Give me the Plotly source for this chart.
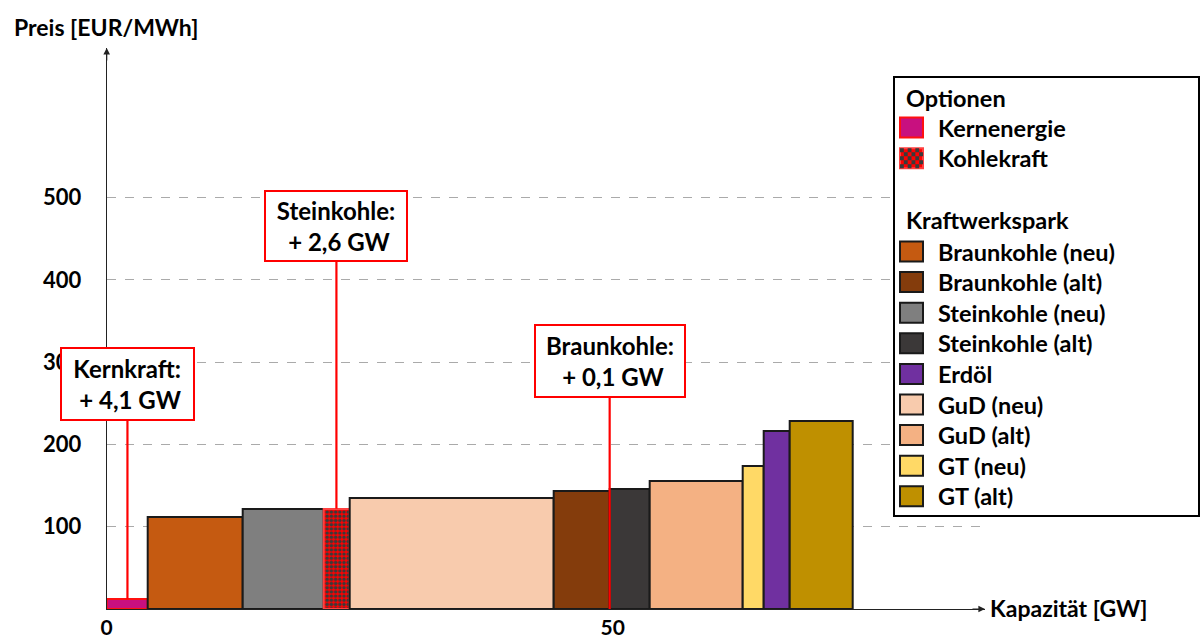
import plotly.graph_objects as go
import numpy as np

# ---------------- data ----------------
categories = ["Kernenergie", "Braunkohle (neu)", "Steinkohle (neu)", "Kohlekraft",
              "GuD (neu)", "Braunkohle (alt)", "Steinkohle (alt)", "GuD (alt)",
              "GT (neu)", "Erdöl", "GT (alt)"]
capacity_gw = [4.1, 9.3, 8.0, 2.6, 20.2, 5.5, 4.0, 9.1, 2.1, 2.6, 6.2]
price_eur_mwh = [12, 112, 122, 122, 135, 143, 146, 156, 174, 217, 229]

option_categories = ["Kernenergie", "Kohlekraft"]
park_categories = ["Braunkohle (neu)", "Braunkohle (alt)", "Steinkohle (neu)",
                   "Steinkohle (alt)", "Erdöl", "GuD (neu)", "GuD (alt)",
                   "GT (neu)", "GT (alt)"]

callout_names = ["Kernkraft", "Steinkohle", "Braunkohle"]
callout_added = ["4,1", "2,6", "0,1"]
callout_anchor = ["Kernenergie", "Kohlekraft", "Braunkohle (alt)"]

x_ticks = [0, 50]
y_ticks = [100, 200, 300, 400, 500]

# ---------------- styles ----------------
fill = {
    "Kernenergie": "#C8107F", "Kohlekraft": "#FF0000",
    "Braunkohle (neu)": "#C55A11", "Braunkohle (alt)": "#843C0C",
    "Steinkohle (neu)": "#7F7F7F", "Steinkohle (alt)": "#3B3838",
    "Erdöl": "#7030A0", "GuD (neu)": "#F8CBAD", "GuD (alt)": "#F4B183",
    "GT (neu)": "#FFD966", "GT (alt)": "#BF9000",
}
edge = {c: "#1a1a1a" for c in categories}
edge["Kernenergie"] = "#FF1010"
edge["Kohlekraft"] = "#FF4040"
CHECK = "#3a3a3a"

FONT = "Lato, 'Open Sans', sans-serif"
W, H = 1200, 639
PX_X0, PX_X1 = 106.7, 985.0
PX_Y0, PX_Y1 = 609.0, 48.0
PX_PER_GW = 10.12
X_MAX = (PX_X1 - PX_X0) / PX_PER_GW
Y_MAX = 682.0


def pxp(px):
    return px / W


def pyp(py):
    return 1 - py / H


def py2data(py):
    return (PX_Y0 - py) / (PX_Y0 - PX_Y1) * Y_MAX


cap = np.array(capacity_gw)
right = np.cumsum(cap)
left = right - cap
center = (left + right) / 2
idx = {c: i for i, c in enumerate(categories)}

fig = go.Figure()
for i, c in enumerate(categories):
    marker = dict(color=fill[c], line=dict(color=edge[c], width=2))
    if c == "Kohlekraft":
        marker["pattern"] = dict(shape=".", bgcolor=fill[c], fgcolor=CHECK,
                                 size=4.2, solidity=0.55, fillmode="replace")
    fig.add_trace(go.Bar(
        x=[center[i]], y=[price_eur_mwh[i]], width=[cap[i]], name=c,
        marker=marker, showlegend=False,
        hovertemplate=c + ": %{y} EUR/MWh<extra></extra>",
    ))

shapes = []
annotations = []

# callouts
box_geo = [  # (center_py, outer_w, outer_h)
    (383.7, 135, 74), (226.0, 144, 72), (361.0, 152, 74)]
for name, add, anc, (cpy, ow, oh) in zip(callout_names, callout_added, callout_anchor, box_geo):
    i = idx[anc]
    if anc == "Braunkohle (alt)":
        lx, ly0 = right[i], 0
    else:
        lx, ly0 = center[i], price_eur_mwh[i]
    shapes.append(dict(type="line", xref="x", yref="y", x0=lx, x1=lx,
                       y0=ly0, y1=py2data(cpy + oh / 2), layer="above",
                       line=dict(color="#FF0000", width=2.2)))
    annotations.append(dict(
        xref="x", yref="y", x=lx, y=py2data(cpy), showarrow=False,
        text=f"<b>{name}:</b><br><b> + {add} GW</b>",
        font=dict(family=FONT, size=24, color="black"),
        bgcolor="white", bordercolor="#FF0000", borderwidth=2, borderpad=0,
        width=ow - 4, height=oh - 4, align="center", valign="middle",
        xanchor="center", yanchor="middle"))

# axis arrows
annotations.append(dict(xref="x", yref="y", x=0, y=Y_MAX, ax=0, ay=14, text="",
                        showarrow=True, arrowhead=2, arrowsize=1.1, arrowwidth=1.2,
                        arrowcolor="#222"))
annotations.append(dict(xref="x", yref="y", x=X_MAX, y=0, ax=-14, ay=0, text="",
                        showarrow=True, arrowhead=2, arrowsize=1.1, arrowwidth=1.2,
                        arrowcolor="#222"))

# axis titles
annotations.append(dict(xref="paper", yref="paper", x=pxp(12), y=pyp(27),
                        xanchor="left", yanchor="middle", showarrow=False,
                        text="<b>Preis [EUR/MWh]</b>",
                        font=dict(family=FONT, size=23, color="black")))
annotations.append(dict(xref="paper", yref="paper", x=pxp(988), y=pyp(608),
                        xanchor="left", yanchor="middle", showarrow=False,
                        text="<b>Kapazität [GW]</b>",
                        font=dict(family=FONT, size=23, color="black")))

# custom legend
shapes.append(dict(type="rect", xref="paper", yref="paper",
                   x0=pxp(894), x1=pxp(1199), y0=pyp(516), y1=pyp(77),
                   fillcolor="white", line=dict(color="black", width=2), layer="above"))
SW_X0, SW_X1, SW_H = 900, 923, 20
TXT_X, TITLE_X = 936, 904
LEG_SIZE = 23.5
rows = [("title", "Optionen", 98.3)]
y = 127.5
for c in option_categories:
    rows.append(("item", c, y))
    y += 30.7
rows.append(("title", "Kraftwerkspark", 220.0))
y = 251.5
for c in park_categories:
    rows.append(("item", c, y))
    y += 30.6

for kind, label, ry in rows:
    if kind == "title":
        annotations.append(dict(xref="paper", yref="paper", x=pxp(TITLE_X), y=pyp(ry),
                                xanchor="left", yanchor="middle", showarrow=False,
                                text=f"<b>{label}</b>",
                                font=dict(family=FONT, size=LEG_SIZE, color="black")))
        continue
    shapes.append(dict(type="rect", xref="paper", yref="paper",
                       x0=pxp(SW_X0), x1=pxp(SW_X1),
                       y0=pyp(ry + SW_H / 2), y1=pyp(ry - SW_H / 2),
                       fillcolor=fill[label], layer="above",
                       line=dict(color=edge[label], width=2)))
    if label == "Kohlekraft":
        cell = 23 / 6
        parts = []
        for r in range(5):
            for k in range(6):
                if (r + k) % 2 == 0:
                    x0 = SW_X0 + k * cell
                    y0 = ry - SW_H / 2 + r * 4
                    parts.append(f"M{pxp(x0):.5f},{pyp(y0):.5f}H{pxp(x0 + cell):.5f}"
                                 f"V{pyp(y0 + 4):.5f}H{pxp(x0):.5f}Z")
        shapes.append(dict(type="path", xref="paper", yref="paper", path="".join(parts),
                           fillcolor=CHECK, line=dict(width=0), layer="above"))
    annotations.append(dict(xref="paper", yref="paper", x=pxp(TXT_X), y=pyp(ry),
                            xanchor="left", yanchor="middle", showarrow=False,
                            text=f"<b>{label}</b>",
                            font=dict(family=FONT, size=LEG_SIZE, color="black")))

fig.update_layout(
    width=W, height=H, autosize=False,
    margin=dict(l=0, r=0, t=0, b=0),
    paper_bgcolor="white", plot_bgcolor="white",
    bargap=0, barmode="overlay",
    font=dict(family=FONT, size=22, color="black"),
    shapes=shapes, annotations=annotations,
    xaxis=dict(domain=[pxp(PX_X0), pxp(PX_X1)], range=[0, X_MAX],
               showline=True, linecolor="#222", linewidth=1.2,
               showgrid=False, zeroline=False, ticks="",
               tickvals=x_ticks, ticktext=[f"<b>{v}</b>" for v in x_ticks],
               tickfont=dict(family=FONT, size=21),
               ticklabelstandoff=0, automargin=False, fixedrange=True),
    yaxis=dict(domain=[pyp(PX_Y0), pyp(PX_Y1)], range=[0, Y_MAX],
               showline=True, linecolor="#222", linewidth=1.2,
               showgrid=True, gridcolor="#aaaaaa", griddash="dash", gridwidth=1,
               zeroline=False, ticks="",
               tickvals=y_ticks, ticktext=[f"<b>{v}</b>" for v in y_ticks],
               tickfont=dict(family=FONT, size=22),
               ticklabelstandoff=20, automargin=False, fixedrange=True),
)

fig.write_html("out.html")
